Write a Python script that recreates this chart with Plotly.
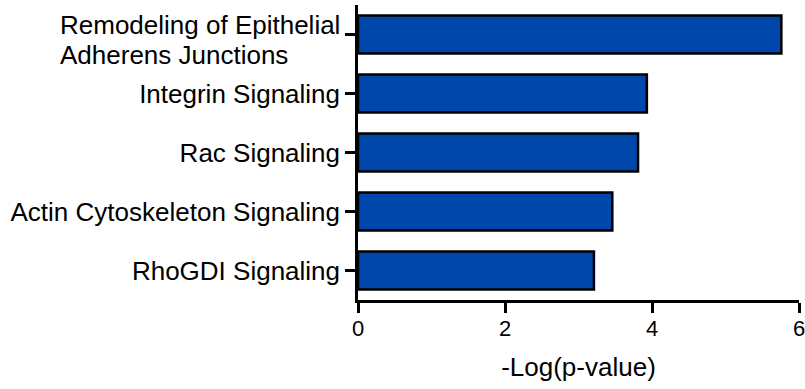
import plotly.graph_objects as go

categories = ["Remodeling of Epithelial Adherens Junctions", "Integrin Signaling",
              "Rac Signaling", "Actin Cytoskeleton Signaling", "RhoGDI Signaling"]
values = [5.76, 3.93, 3.81, 3.46, 3.21]
tick_labels = ["", "Integrin Signaling", "Rac Signaling",
               "Actin Cytoskeleton Signaling", "RhoGDI Signaling"]
long_label_lines = ["Remodeling of Epithelial", "Adherens Junctions"]
x_ticks = [0, 2, 4, 6]

FONT = "Arial, Liberation Sans, Helvetica, sans-serif"

fig = go.Figure(go.Bar(
    x=values, y=categories, orientation="h",
    marker=dict(color="#0047AB", line=dict(color="black", width=2.5)),
))

fig.update_layout(
    template="none",
    width=805, height=389,
    margin=dict(l=358, r=6, t=5, b=89, autoexpand=False),
    plot_bgcolor="white", paper_bgcolor="white",
    bargap=0.36, showlegend=False,
    font=dict(family=FONT, color="black"),
)
fig.update_xaxes(
    range=[0, 6], tickvals=x_ticks, ticktext=[str(v) for v in x_ticks],
    showline=True, linecolor="black", linewidth=2.5, automargin=False,
    ticks="outside", ticklen=10, tickwidth=2.5, tickcolor="black",
    showgrid=False, zeroline=False, ticklabeloverflow="allow",
    tickfont=dict(size=22, family=FONT, color="black"),
    ticklabelstandoff=-3,
    title=dict(text="-Log(p-value)", font=dict(size=26, family=FONT, color="black"), standoff=18),
)
fig.update_yaxes(
    range=[4.5, -0.5], tickvals=categories, ticktext=tick_labels,
    showline=True, linecolor="black", linewidth=2.5, automargin=False,
    ticks="outside", ticklen=10, tickwidth=2.5, tickcolor="black",
    showgrid=False, zeroline=False,
    tickfont=dict(size=26, family=FONT, color="black"),
    ticklabelstandoff=0,
)
for line_text, yshift in zip(long_label_lines, [10, -20]):
    fig.add_annotation(
        text=line_text, xref="paper", yref="y", x=0, y=categories[0],
        xanchor="left", yanchor="middle", align="left", xshift=-300, yshift=yshift,
        showarrow=False, font=dict(size=26, family=FONT, color="black"),
    )

fig.write_html("out.html", config={"displayModeBar": False},
               post_script="document.body.style.margin='0';document.body.style.overflow='hidden';")
